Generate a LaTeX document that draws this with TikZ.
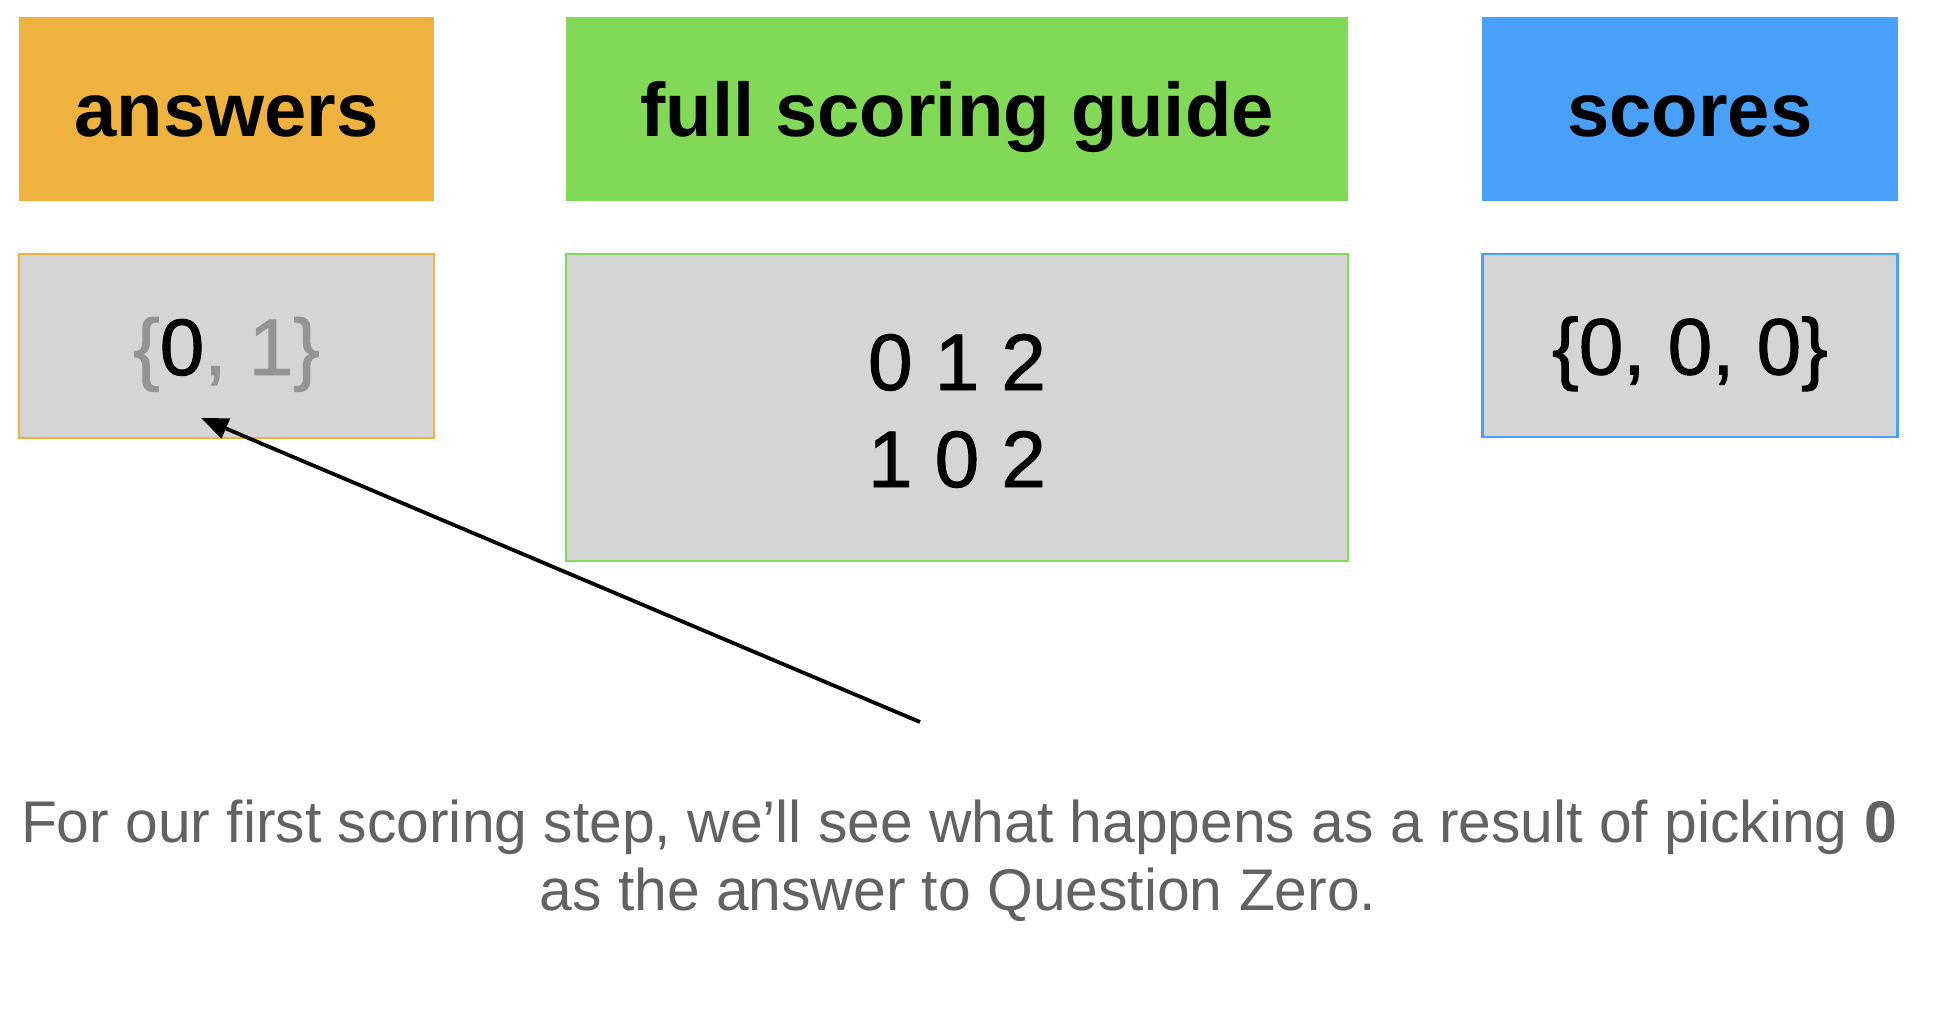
\documentclass[tikz,border=0pt]{standalone}
\usepackage{fontspec}
\setmainfont{Liberation Sans}
\newfontfamily\medfont[FakeBold=1.2]{Liberation Sans}
\usetikzlibrary{arrows.meta}
\definecolor{hdrorange}{HTML}{F0B23F}
\definecolor{hdrgreen}{HTML}{82D857}
\definecolor{hdrblue}{HTML}{48A0F8}
\definecolor{boxgray}{HTML}{D5D5D5}
\definecolor{softgray}{HTML}{949494}
\definecolor{captiongray}{HTML}{626262}
\tikzset{
  header/.style={rectangle, inner sep=0pt, fill=#1, draw=none,
    text height=56pt, text depth=0pt,
    font=\fontsize{76}{80}\selectfont\bfseries},
  valbox/.style={rectangle, inner sep=0pt, fill=boxgray, draw=#1, line width=2.5pt,
    text height=58pt, text depth=0pt,
    font=\medfont\fontsize{80}{90}\selectfont},
  valtext/.style={inner sep=0pt, anchor=base, font=\medfont\fontsize{80}{90}\selectfont},
  captext/.style={inner sep=0pt, anchor=base, text=captiongray,
    font=\fontsize{58.8}{68}\selectfont},
  pointer/.style={line width=3.8pt, -{Triangle[length=27pt,width=21pt]}}
}
\begin{document}
\begin{tikzpicture}[x=1pt,y=-1pt]
\useasboundingbox (0,0) rectangle (1946,1022);
% headers
\node[header=hdrorange, minimum width=415pt, minimum height=184pt] (anshead) at (226.5,109) {answers};
\node[header=hdrgreen, minimum width=782pt, minimum height=184pt] (guidehead) at (957,109) {full scoring guide};
\node[header=hdrblue, minimum width=416pt, minimum height=184pt] (scorehead) at (1690,109) {scores};
% value boxes
\node[valbox=hdrorange, minimum width=415pt, minimum height=184pt] (ansval) at (226.5,346)
  {\textcolor{softgray}{\{}0\textcolor{softgray}{, 1\}}};
\node[valbox=hdrgreen, minimum width=782pt, minimum height=307pt] (guideval) at (957,407.5) {};
\node[valtext] (row1) at (957,390) {0 1 2};
\node[valtext] (row2) at (957,487) {1 0 2};
\node[valbox=hdrblue, minimum width=415pt, minimum height=183pt] (scoreval) at (1690,345.5) {\{0, 0, 0\}};
% arrow
\coordinate (arrowstart) at (920,722);
\coordinate (arrowtip) at (201,418);
\draw[pointer] (arrowstart) -- (arrowtip);
% caption
\node[captext] (cap1) at (959,842) {For our first scoring step, we’ll see what happens as a result of picking \textbf{0}};
\node[captext] (cap2) at (958,910) {as the answer to Question Zero.};
\end{tikzpicture}
\end{document}
